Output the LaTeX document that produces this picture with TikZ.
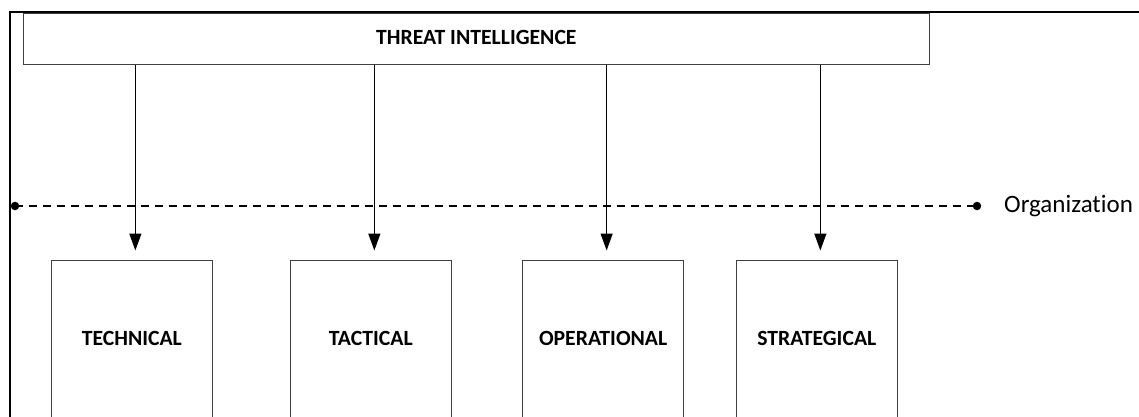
\documentclass[tikz,border=0pt]{standalone}
\usepackage{fontspec}
\setmainfont{Carlito}[Ligatures=NoCommon]
\usetikzlibrary{arrows.meta,calc}
\begin{document}
\begin{tikzpicture}[x=1pt,y=-1pt,
  boxline/.style={draw=black!75,line width=1.3pt},
  levelbox/.style={boxline,anchor=north west,minimum width=161pt,minimum height=190pt,inner sep=0pt},
  levellabel/.style={font=\bfseries\fontsize{21.7}{26}\selectfont,inner sep=0pt,anchor=center},
  feed/.style={draw=black,line width=1.3pt,-{Triangle[length=17pt,width=12pt]},shorten >=9pt},
  dotend/.style={fill=black,draw=none,circle,minimum size=8.5pt,inner sep=0pt}]
\useasboundingbox (0,0) rectangle (1139,417);
\clip (0,0) rectangle (1139,417);
% border
\draw[line width=2pt,black] (9.5,430) -- (9.5,12.5) -- (1145,12.5);
% title
\node[boxline,anchor=north west,minimum width=906pt,minimum height=51pt,inner sep=0pt] (ti) at (22.7,13) {};
\node[levellabel] (tilabel) at ($(ti.center)+(0,-2)$) {THREAT INTELLIGENCE};
% level boxes
\node[levelbox] (tech) at (50.7,259.5) {};
\node[levelbox] (tact) at (289.7,259.5) {};
\node[levelbox] (oper) at (522,259.5) {};
\node[levelbox] (strat) at (735.7,259.5) {};
\node[levellabel] (techl) at ($(tech.north)+(0,79)$) {TECHNICAL};
\node[levellabel] (tactl) at ($(tact.north)+(0,79)$) {TACTICAL};
\node[levellabel] (operl) at ($(oper.north)+(0,79)$) {OPERATIONAL};
\node[levellabel] (stratl) at ($(strat.north)+(0,79)$) {STRATEGICAL};
% arrow end coordinates
\coordinate (techin) at ($(tech.north)+(3.5,0)$);
\coordinate (tactin) at ($(tact.north)+(3.5,0)$);
\coordinate (operin) at ($(oper.north)+(3.5,0)$);
\coordinate (stratin) at ($(strat.north)+(3.5,0)$);
\draw[feed] (ti.south -| techin) -- (techin);
\draw[feed] (ti.south -| tactin) -- (tactin);
\draw[feed] (ti.south -| operin) -- (operin);
\draw[feed] (ti.south -| stratin) -- (stratin);
% organization line
\node[dotend] (orgl) at (15,206) {};
\node[dotend] (orgr) at (977,206) {};
\draw[black,line width=1.2pt,dash pattern=on 8pt off 6pt] (orgl.center) -- (orgr.center);
\node[anchor=west,inner sep=0pt,font=\fontsize{25}{30}\selectfont] (org) at (1004,206) {Organization};
\end{tikzpicture}
\end{document}
